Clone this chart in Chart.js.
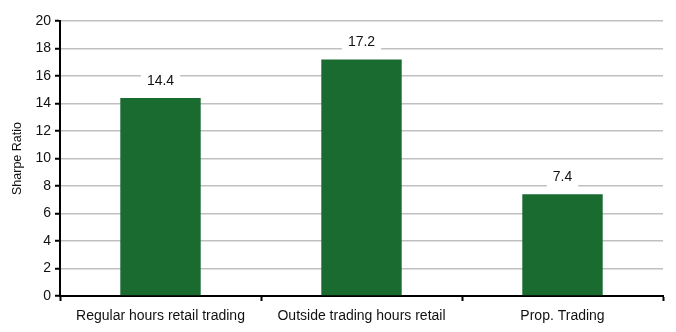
<!DOCTYPE html>
<html><head><meta charset="utf-8">
<script src="https://cdn.jsdelivr.net/npm/chart.js@4"></script>
<style>html,body{margin:0;padding:0;background:#fff}#wrap{width:676px;height:332px}</style>
</head><body><div id="wrap"><canvas id="c" width="676" height="332"></canvas></div>
<script>
const categories = ["Regular hours retail trading", "Outside trading hours retail", "Prop. Trading"];
const sharpeValues = [14.4, 17.2, 7.4];
const yTicks = [0, 2, 4, 6, 8, 10, 12, 14, 16, 18, 20];

const FONT = "'Liberation Sans', Arial, sans-serif";

const labelPlugin = {
  id: 'boxLabels',
  afterDatasetsDraw(chart) {
    const ctx = chart.ctx;
    const meta = chart.getDatasetMeta(0);
    ctx.save();
    ctx.font = "14px " + FONT;
    ctx.textAlign = 'center';
    ctx.textBaseline = 'middle';
    meta.data.forEach((bar, i) => {
      const txt = sharpeValues[i].toFixed(1);
      const w = ctx.measureText(txt).width + 12;
      const cy = bar.y - 17;
      ctx.fillStyle = '#fff';
      ctx.fillRect(bar.x - w / 2, cy - 10, w, 20);
      ctx.fillStyle = '#111';
      ctx.fillText(txt, bar.x, cy);
    });
    ctx.restore();
  }
};

new Chart(document.getElementById('c'), {
  type: 'bar',
  data: {
    labels: categories,
    datasets: [{ data: sharpeValues, backgroundColor: '#196b30', categoryPercentage: 1, barPercentage: 0.4 }]
  },
  options: {
    responsive: false,
    animation: false,
    layout: { padding: { top: 21, right: 13, left: 0, bottom: 0 } },
    plugins: { legend: { display: false }, tooltip: { enabled: false } },
    scales: {
      x: {
        grid: { drawOnChartArea: false, tickColor: '#000', tickLength: 5, tickWidth: 2, offset: true },
        border: { color: '#000', width: 2 },
        ticks: { color: '#111', font: { family: FONT, size: 14 }, padding: 7, maxRotation: 0 },
        afterFit(s) { s.height = 36; }
      },
      y: {
        min: 0, max: 20,
        afterBuildTicks(s) { s.ticks = yTicks.map(v => ({ value: v })); },
        grid: { color: '#c0c0c0', lineWidth: 1.5, tickColor: '#000', tickLength: 5, tickWidth: 2 },
        border: { color: '#000', width: 2 },
        ticks: { color: '#111', font: { family: FONT, size: 14 }, padding: 4 },
        title: { display: true, text: 'Sharpe Ratio', color: '#111', font: { family: FONT, size: 12.5 }, padding: { top: 10, bottom: 0 } },
        afterFit(s) { s.width = 60; }
      }
    }
  },
  plugins: [labelPlugin]
});
</script>
</body></html>
